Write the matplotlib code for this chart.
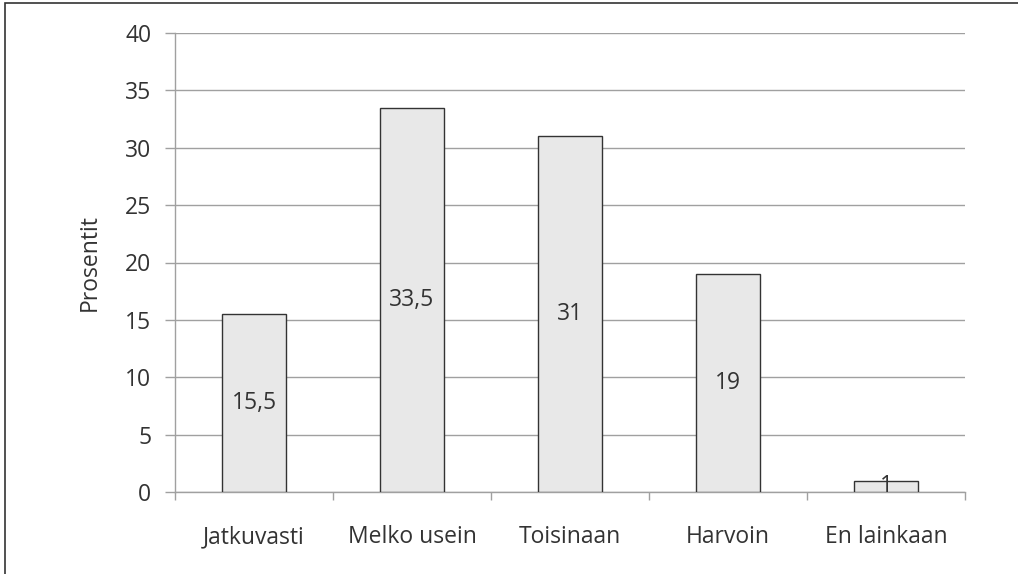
import matplotlib.pyplot as plt
from matplotlib.patches import Rectangle

categories = ['Jatkuvasti', 'Melko usein', 'Toisinaan', 'Harvoin', 'En lainkaan']
values = [15.5, 33.5, 31, 19, 1]
value_labels = ['15,5', '33,5', '31', '19', '1']

plt.rcParams['font.family'] = ['Open Sans', 'DejaVu Sans']

fig = plt.figure(figsize=(10.18, 5.74), dpi=100)
ax = fig.add_axes([175 / 1018, 1 - 492 / 574, 790 / 1018, 459 / 574])

# outer frame of the chart area
fig.patches.append(Rectangle((5 / 1018, -0.1), 1.2, 1 - 3 / 574 + 0.1,
                             transform=fig.transFigure, fill=False,
                             edgecolor='#333333', linewidth=1.2))

x = range(len(categories))
ax.bar(x, values, width=0.4, color='#e8e8e8', edgecolor='#333333',
       linewidth=1.0, zorder=3)

for i, (v, lab) in enumerate(zip(values, value_labels)):
    ax.text(i, v / 2, lab, ha='center', va='center', fontsize=16.5,
            color='#333333', zorder=4)

ax.set_xlim(-0.5, len(categories) - 0.5)
ax.set_ylim(0, 40)
ax.set_yticks(range(0, 41, 5))
ax.yaxis.grid(True, color='#a0a0a0', linewidth=1.0, zorder=0)

ax.set_xticks(list(x))
ax.set_xticklabels(categories)
ax.set_xticks([i - 0.5 for i in range(len(categories) + 1)], minor=True)
ax.tick_params(axis='x', which='major', length=0, pad=24, labelsize=16.5,
               labelcolor='#333333')
ax.tick_params(axis='x', which='minor', length=6, color='#a0a0a0', width=1)
ax.tick_params(axis='y', length=7, color='#a0a0a0', width=1, pad=10,
               labelsize=16.5, labelcolor='#333333')

for s in ['top', 'right']:
    ax.spines[s].set_visible(False)
for s in ['left', 'bottom']:
    ax.spines[s].set_color('#a0a0a0')
    ax.spines[s].set_linewidth(1.0)

ax.set_ylabel('Prosentit', fontsize=16.5, color='#333333', labelpad=17)

fig.savefig('out.png', dpi=100)
plt.close()
